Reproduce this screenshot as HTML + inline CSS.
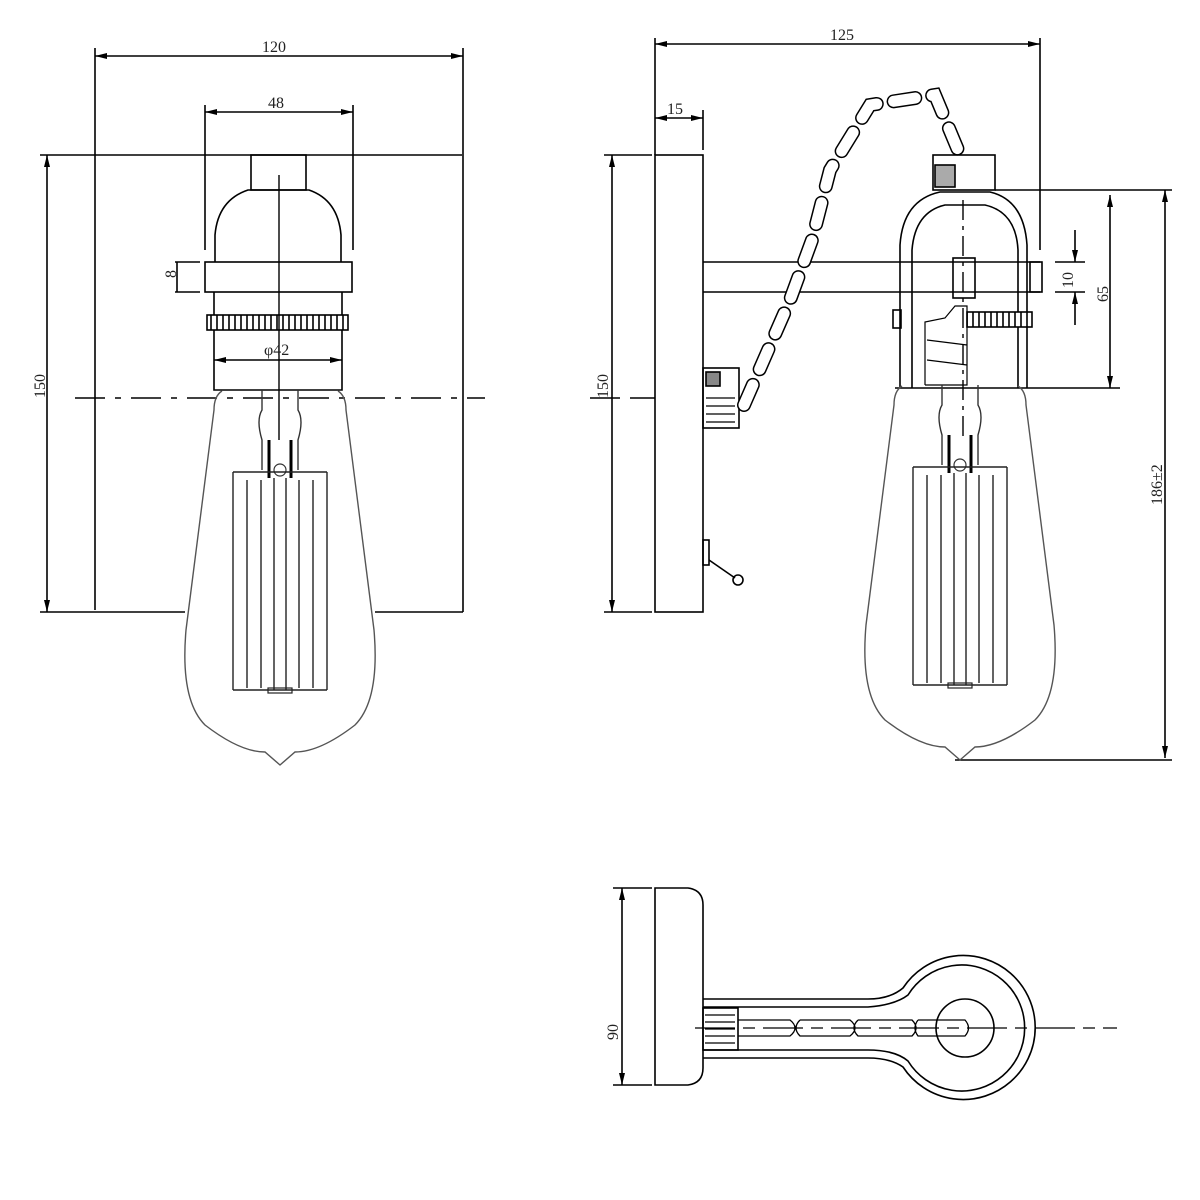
<!DOCTYPE html>
<html><head><meta charset="utf-8"><style>
html,body{margin:0;padding:0;background:#fff}
svg{display:block}
text{font-family:"Liberation Serif",serif;font-size:16px;fill:#222}
</style></head><body>
<svg width="1200" height="1200" viewBox="0 0 1200 1200" xmlns="http://www.w3.org/2000/svg">
<defs>
<pattern id="kn" width="6" height="20" patternUnits="userSpaceOnUse"><rect width="6" height="20" fill="#fff"/><line x1="1" y1="0" x2="1" y2="20" stroke="#000" stroke-width="1.6"/></pattern>
<marker id="ar" markerWidth="12" markerHeight="8" refX="12" refY="4" orient="auto-start-reverse" markerUnits="userSpaceOnUse"><path d="M0,1 L12,4 L0,7" fill="#000"/></marker>
<g id="bulb" fill="none">
<path d="M222,391 Q214,396 214,410 L186,630 Q180,700 205,725 Q240,752 265,752 L280,765 L295,752 Q320,752 355,725 Q380,700 374,630 L346,410 Q346,396 338,391" stroke="#555" stroke-width="1.4"/>
<path d="M262,390 L262,410 Q256,420 262,440 L262,470 M298,390 L298,410 Q304,420 298,440 L298,470" stroke="#333" stroke-width="1.4"/>
<path d="M269,440 L269,478 M291,440 L291,478" stroke="#000" stroke-width="3"/>
<circle cx="280" cy="470" r="6" stroke="#333" stroke-width="1.2"/>
<path d="M233,472 L233,690 M247,480 L247,688 M261,480 L261,688 M274,478 L274,690 M286,478 L286,690 M299,480 L299,688 M313,480 L313,688 M327,472 L327,690 M233,472 L327,472 M233,690 L327,690" stroke="#222" stroke-width="1.4"/>
<rect x="268" y="688" width="24" height="5" stroke="#222" stroke-width="1.2"/>
</g>
</defs>
<g stroke="#000" stroke-width="1.6" fill="none">
<line x1="95" y1="48" x2="95" y2="610"/><line x1="463" y1="48" x2="463" y2="612"/>
<line x1="95" y1="56" x2="463" y2="56" marker-start="url(#ar)" marker-end="url(#ar)"/>
<line x1="40" y1="155" x2="462" y2="155"/>
<line x1="40" y1="612" x2="185" y2="612"/><line x1="375" y1="612" x2="463" y2="612"/>
<line x1="47" y1="155" x2="47" y2="612" marker-start="url(#ar)" marker-end="url(#ar)"/>
<line x1="75" y1="398" x2="485" y2="398" stroke-dasharray="30,10,6,10" stroke-width="1.4"/>
<line x1="205" y1="105" x2="205" y2="250"/><line x1="353" y1="105" x2="353" y2="250"/>
<line x1="205" y1="112" x2="353" y2="112" marker-start="url(#ar)" marker-end="url(#ar)"/>
<rect x="251" y="155" width="55" height="35"/>
<path d="M215,262 L215,235 Q218,200 248,190 L309,190 Q338,200 341,235 L341,262"/>
<rect x="205" y="262" width="147" height="30" fill="#fff"/>
<path d="M214,292 L214,390 L342,390 L342,292"/>
<rect x="207" y="315" width="141" height="15" fill="url(#kn)"/>
<line x1="175" y1="262" x2="200" y2="262"/><line x1="175" y1="292" x2="200" y2="292"/>
<line x1="177" y1="262" x2="177" y2="292"/>
<line x1="214" y1="360" x2="342" y2="360" marker-start="url(#ar)" marker-end="url(#ar)"/>
<use href="#bulb"/>
<line x1="279" y1="175" x2="279" y2="440" stroke-width="1.4"/>

<line x1="655" y1="38" x2="655" y2="155"/><line x1="1040" y1="38" x2="1040" y2="250"/>
<line x1="655" y1="44" x2="1040" y2="44" marker-start="url(#ar)" marker-end="url(#ar)"/>
<line x1="703" y1="110" x2="703" y2="150"/>
<line x1="655" y1="118" x2="703" y2="118" marker-start="url(#ar)" marker-end="url(#ar)"/>
<rect x="655" y="155" width="48" height="457"/>
<line x1="604" y1="155" x2="652" y2="155"/><line x1="604" y1="612" x2="652" y2="612"/>
<line x1="612" y1="155" x2="612" y2="612" marker-start="url(#ar)" marker-end="url(#ar)"/>
<line x1="590" y1="398" x2="655" y2="398" stroke-dasharray="30,10"/>
<line x1="703" y1="262" x2="1040" y2="262"/><line x1="703" y1="292" x2="1040" y2="292"/>
<rect x="1030" y="262" width="12" height="30"/>
<rect x="703" y="368" width="36" height="60"/>
<path d="M706,398 L735,398 M706,406 L735,406 M706,414 L735,414 M706,422 L735,422" stroke-width="1.2"/>
<rect x="706" y="372" width="14" height="14" fill="#888"/>
<rect x="703" y="540" width="6" height="25"/>
<line x1="709" y1="560" x2="735" y2="578"/><circle cx="738" cy="580" r="5"/>
<path d="M744,405 L790,300 L812,240 L830,170 L870,105 L935,95 L958,150" stroke="#000" stroke-width="14" stroke-dasharray="22,17" stroke-linecap="round"/>
<path d="M744,405 L790,300 L812,240 L830,170 L870,105 L935,95 L958,150" stroke="#fff" stroke-width="11" stroke-dasharray="22,17" stroke-linecap="round"/>
<rect x="933" y="155" width="62" height="35"/>
<rect x="935" y="165" width="20" height="22" fill="#aaa"/>
<path d="M900,388 L900,245 Q903,200 940,192 L990,192 Q1024,200 1027,245 L1027,388"/>
<path d="M912,388 L912,250 Q915,212 945,205 L985,205 Q1016,212 1018,250 L1018,388"/>
<line x1="895" y1="388" x2="1120" y2="388"/>
<line x1="995" y1="190" x2="1172" y2="190"/>
<rect x="953" y="258" width="22" height="40"/>
<rect x="967" y="312" width="65" height="15" fill="url(#kn)"/>
<path d="M925,385 L925,322 L945,318 L955,306 L967,306 L967,385 L925,385 M927,340 L967,345 M927,360 L967,365" stroke-width="1.2"/>
<rect x="893" y="310" width="8" height="18"/>
<line x1="1110" y1="195" x2="1110" y2="388" marker-start="url(#ar)" marker-end="url(#ar)"/>
<line x1="1165" y1="190" x2="1165" y2="758" marker-start="url(#ar)" marker-end="url(#ar)"/>
<line x1="955" y1="760" x2="1172" y2="760"/>
<line x1="1055" y1="262" x2="1085" y2="262"/><line x1="1055" y1="292" x2="1085" y2="292"/>
<line x1="1075" y1="230" x2="1075" y2="262" marker-end="url(#ar)"/>
<line x1="1075" y1="325" x2="1075" y2="292" marker-end="url(#ar)"/>
<g transform="translate(680,-5)"><use href="#bulb"/></g>
<line x1="963" y1="200" x2="963" y2="440" stroke-dasharray="20,6,4,6" stroke-width="1.4"/>

<path d="M655,888 L688,888 Q703,890 703,905 L703,1068 Q703,1083 688,1085 L655,1085 Z"/>
<line x1="613" y1="888" x2="652" y2="888"/><line x1="613" y1="1085" x2="652" y2="1085"/>
<line x1="622" y1="888" x2="622" y2="1085" marker-start="url(#ar)" marker-end="url(#ar)"/>
<path d="M703,999 L868,999 Q890,999 903,988 A72,72 0 1 1 903,1067 Q890,1058 868,1058 L703,1058"/>
<path d="M703,1007 L868,1007 Q895,1005 908,995 A63,63 0 1 1 908,1061 Q895,1050 868,1050 L703,1050"/>
<circle cx="965" cy="1028" r="29"/>
<rect x="703" y="1008" width="35" height="42"/>
<path d="M705,1015 L735,1015 M705,1022 L735,1022 M705,1029 L735,1029 M705,1036 L735,1036 M705,1043 L735,1043" stroke-width="1.2"/>
<path d="M738,1020 L790,1020 Q800,1028 790,1036 L738,1036 M800,1020 L850,1020 Q860,1028 850,1036 L800,1036 Q792,1028 800,1020 M858,1020 L912,1020 Q920,1028 912,1036 L858,1036 Q850,1028 858,1020 M918,1020 L965,1020 Q972,1028 965,1036 L918,1036 Q912,1028 918,1020" stroke-width="1.3"/>
<line x1="695" y1="1028" x2="1117" y2="1028" stroke-dasharray="40,8,12,8" stroke-width="1.3"/>
</g>
<g>
<text x="262" y="52">120</text>
<text x="268" y="108">48</text>
<text x="264" y="355">φ42</text>
<text x="172" y="282" font-size="10" transform="rotate(-90 172 278)">8</text>
<text transform="translate(45,398) rotate(-90)">150</text>
<text x="830" y="40">125</text>
<text x="667" y="114">15</text>
<text transform="translate(608,398) rotate(-90)">150</text>
<text transform="translate(1073,288) rotate(-90)">10</text>
<text transform="translate(1108,302) rotate(-90)">65</text>
<text transform="translate(1162,505) rotate(-90)">186±2</text>
<text transform="translate(618,1040) rotate(-90)">90</text>
</g>
</svg>
</body></html>
